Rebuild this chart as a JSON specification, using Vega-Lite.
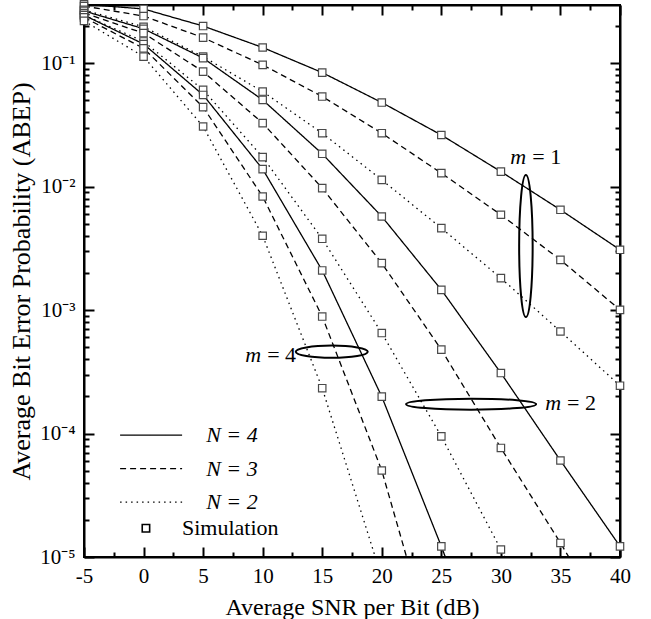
{
  "$schema": "https://vega.github.io/schema/vega-lite/v6.json",
  "width": 536,
  "height": 552,
  "autosize": {"type": "none"},
  "padding": {"left": 84, "top": 5, "right": 31, "bottom": 62},
  "background": "white",
  "config": {
    "view": {"stroke": "black", "strokeWidth": 2},
    "font": "Liberation Serif",
    "axis": {
      "grid": false,
      "domainColor": "black",
      "domainWidth": 2,
      "tickColor": "black",
      "tickWidth": 2,
      "labelFont": "Liberation Serif",
      "labelFontSize": 21,
      "labelColor": "black",
      "labelFlush": false,
      "labelOverlap": false,
      "titleFont": "Liberation Serif",
      "titleFontWeight": "normal",
      "titleColor": "black"
    }
  },
  "datasets": {
    "curves": [
      {"m": 1, "N": 4, "snr": -5, "p": 0.30}, {"m": 1, "N": 4, "snr": 0, "p": 0.275}, {"m": 1, "N": 4, "snr": 5, "p": 0.200}, {"m": 1, "N": 4, "snr": 10, "p": 0.134}, {"m": 1, "N": 4, "snr": 15, "p": 0.0839}, {"m": 1, "N": 4, "snr": 20, "p": 0.0480}, {"m": 1, "N": 4, "snr": 25, "p": 0.0262}, {"m": 1, "N": 4, "snr": 30, "p": 0.01324}, {"m": 1, "N": 4, "snr": 35, "p": 0.00649}, {"m": 1, "N": 4, "snr": 40, "p": 0.00308},
      {"m": 1, "N": 3, "snr": -5, "p": 0.29}, {"m": 1, "N": 3, "snr": 0, "p": 0.241}, {"m": 1, "N": 3, "snr": 5, "p": 0.161}, {"m": 1, "N": 3, "snr": 10, "p": 0.0969}, {"m": 1, "N": 3, "snr": 15, "p": 0.0537}, {"m": 1, "N": 3, "snr": 20, "p": 0.0271}, {"m": 1, "N": 3, "snr": 25, "p": 0.01286}, {"m": 1, "N": 3, "snr": 30, "p": 0.00592}, {"m": 1, "N": 3, "snr": 35, "p": 0.00255}, {"m": 1, "N": 3, "snr": 40, "p": 0.001005},
      {"m": 1, "N": 2, "snr": -5, "p": 0.27}, {"m": 1, "N": 2, "snr": 0, "p": 0.197}, {"m": 1, "N": 2, "snr": 5, "p": 0.113}, {"m": 1, "N": 2, "snr": 10, "p": 0.0589}, {"m": 1, "N": 2, "snr": 15, "p": 0.0271}, {"m": 1, "N": 2, "snr": 20, "p": 0.01135}, {"m": 1, "N": 2, "snr": 25, "p": 0.00461}, {"m": 1, "N": 2, "snr": 30, "p": 0.001816}, {"m": 1, "N": 2, "snr": 35, "p": 0.000671}, {"m": 1, "N": 2, "snr": 40, "p": 0.000244},
      {"m": 2, "N": 4, "snr": -5, "p": 0.265}, {"m": 2, "N": 4, "snr": 0, "p": 0.19}, {"m": 2, "N": 4, "snr": 5, "p": 0.110}, {"m": 2, "N": 4, "snr": 10, "p": 0.0504}, {"m": 2, "N": 4, "snr": 15, "p": 0.01845}, {"m": 2, "N": 4, "snr": 20, "p": 0.00573}, {"m": 2, "N": 4, "snr": 25, "p": 0.001459}, {"m": 2, "N": 4, "snr": 30, "p": 0.000309}, {"m": 2, "N": 4, "snr": 35, "p": 0.0000605}, {"m": 2, "N": 4, "snr": 40, "p": 0.0000122},
      {"m": 2, "N": 3, "snr": -5, "p": 0.255}, {"m": 2, "N": 3, "snr": 0, "p": 0.175}, {"m": 2, "N": 3, "snr": 5, "p": 0.0855}, {"m": 2, "N": 3, "snr": 10, "p": 0.0327}, {"m": 2, "N": 3, "snr": 15, "p": 0.00973}, {"m": 2, "N": 3, "snr": 20, "p": 0.00240}, {"m": 2, "N": 3, "snr": 25, "p": 0.000478}, {"m": 2, "N": 3, "snr": 30, "p": 0.0000764}, {"m": 2, "N": 3, "snr": 35, "p": 0.0000130}, {"m": 2, "N": 3, "snr": 40, "p": 0.0000020},
      {"m": 2, "N": 2, "snr": -5, "p": 0.245}, {"m": 2, "N": 2, "snr": 0, "p": 0.150}, {"m": 2, "N": 2, "snr": 5, "p": 0.0608}, {"m": 2, "N": 2, "snr": 10, "p": 0.01734}, {"m": 2, "N": 2, "snr": 15, "p": 0.00378}, {"m": 2, "N": 2, "snr": 20, "p": 0.000652}, {"m": 2, "N": 2, "snr": 25, "p": 0.0000948}, {"m": 2, "N": 2, "snr": 30, "p": 0.0000115}, {"m": 2, "N": 2, "snr": 35, "p": 0.00000122},
      {"m": 4, "N": 4, "snr": -5, "p": 0.245}, {"m": 4, "N": 4, "snr": 0, "p": 0.143}, {"m": 4, "N": 4, "snr": 5, "p": 0.0553}, {"m": 4, "N": 4, "snr": 10, "p": 0.01387}, {"m": 4, "N": 4, "snr": 15, "p": 0.002094}, {"m": 4, "N": 4, "snr": 20, "p": 0.000199}, {"m": 4, "N": 4, "snr": 25, "p": 0.0000122}, {"m": 4, "N": 4, "snr": 30, "p": 0.00000062},
      {"m": 4, "N": 3, "snr": -5, "p": 0.235}, {"m": 4, "N": 3, "snr": 0, "p": 0.132}, {"m": 4, "N": 3, "snr": 5, "p": 0.0441}, {"m": 4, "N": 3, "snr": 10, "p": 0.00832}, {"m": 4, "N": 3, "snr": 15, "p": 0.000887}, {"m": 4, "N": 3, "snr": 20, "p": 0.0000502}, {"m": 4, "N": 3, "snr": 25, "p": 0.00000104},
      {"m": 4, "N": 2, "snr": -5, "p": 0.22}, {"m": 4, "N": 2, "snr": 0, "p": 0.113}, {"m": 4, "N": 2, "snr": 5, "p": 0.0307}, {"m": 4, "N": 2, "snr": 10, "p": 0.0040}, {"m": 4, "N": 2, "snr": 15, "p": 0.000233}, {"m": 4, "N": 2, "snr": 20, "p": 0.0000068}
    ],
    "ellipses": [
      {"m": 1, "snr": 32.1, "p": 0.0033},
      {"m": 2, "snr": 27.5, "p": 0.000173},
      {"m": 4, "snr": 15.8, "p": 0.00046}
    ],
    "mlabels": [
      {"sym": "m", "rest": "= 1", "snr": 32.38, "p": 0.01528},
      {"sym": "m", "rest": "= 2", "snr": 35.3, "p": 0.000155},
      {"sym": "m", "rest": "= 4", "snr": 10.13, "p": 0.000382}
    ],
    "simlegend": [
      {"label": "Simulation", "snr": 0.2, "p": 0.0000171}
    ]
  },
  "layer": [
    {
      "data": {"name": "curves"},
      "mark": {"type": "line", "clip": true, "color": "black", "strokeWidth": 1.3},
      "encoding": {
        "x": {
          "field": "snr", "type": "quantitative",
          "scale": {"domain": [-5, 40], "nice": false, "zero": false},
          "axis": {
            "orient": "bottom",
            "values": [-5, -2.5, 0, 2.5, 5, 7.5, 10, 12.5, 15, 17.5, 20, 22.5, 25, 27.5, 30, 32.5, 35, 37.5, 40],
            "tickSize": {"condition": {"test": "datum.value % 5 == 0", "value": -10}, "value": -5},
            "labelExpr": "datum.value % 5 == 0 ? '' + datum.value : ''",
            "labelPadding": 18,
            "title": "Average SNR per Bit (dB)",
            "titleFontSize": 24,
            "titlePadding": 4
          }
        },
        "y": {
          "field": "p", "type": "quantitative",
          "scale": {"type": "log", "domain": [0.00001, 0.296], "nice": false},
          "axis": {
            "orient": "left",
            "values": [0.00001, 0.00002, 0.00003, 0.00004, 0.00005, 0.00006, 0.00007, 0.00008, 0.00009, 0.0001, 0.0002, 0.0003, 0.0004, 0.0005, 0.0006, 0.0007, 0.0008, 0.0009, 0.001, 0.002, 0.003, 0.004, 0.005, 0.006, 0.007, 0.008, 0.009, 0.01, 0.02, 0.03, 0.04, 0.05, 0.06, 0.07, 0.08, 0.09, 0.1, 0.2],
            "tickSize": {"condition": {"test": "abs(log(datum.value)/LN10 - round(log(datum.value)/LN10)) < 0.000001", "value": -10}, "value": -5},
            "labelExpr": "abs(log(datum.value)/LN10 - round(log(datum.value)/LN10)) < 0.000001 ? '10' + ['⁰','⁻¹','⁻²','⁻³','⁻⁴','⁻⁵'][-round(log(datum.value)/LN10)] : ''",
            "labelPadding": 19,
            "title": "Average Bit Error Probability (ABEP)",
            "titleFontSize": 26,
            "titlePadding": 5
          }
        },
        "detail": {"field": "m", "type": "nominal"},
        "strokeDash": {
          "field": "N", "type": "nominal",
          "scale": {"domain": [4, 3, 2], "range": [[1, 0], [6, 4], [1.5, 4]]},
          "legend": {
            "orient": "none", "legendX": 53.6, "legendY": 416.7,
            "title": null, "symbolType": "M-2.5,0H2.5", "symbolSize": 615,
            "symbolStrokeWidth": 1.3, "symbolStrokeColor": "black",
            "labelFont": "Liberation Serif", "labelFontSize": 22, "labelFontStyle": "italic",
            "labelColor": "black", "labelOffset": 41.6, "rowPadding": 8.5, "padding": 0,
            "labelExpr": "'N = ' + datum.label"
          }
        }
      }
    },
    {
      "data": {"name": "curves"},
      "transform": [{"filter": "datum.p >= 0.00001 && datum.p <= 0.3"}],
      "mark": {"type": "point", "shape": "square", "filled": true, "color": "white", "stroke": "#4a4a4a", "strokeWidth": 1.2, "size": 55, "opacity": 1},
      "encoding": {
        "x": {"field": "snr", "type": "quantitative", "axis": null},
        "y": {"field": "p", "type": "quantitative", "axis": null}
      }
    },
    {
      "data": {"name": "simlegend"},
      "mark": {"type": "point", "shape": "square", "filled": true, "color": "white", "stroke": "black", "strokeWidth": 1.6, "size": 55, "opacity": 1},
      "encoding": {
        "x": {"field": "snr", "type": "quantitative", "axis": null},
        "y": {"field": "p", "type": "quantitative", "axis": null}
      }
    },
    {
      "data": {"name": "simlegend"},
      "mark": {"type": "text", "align": "left", "baseline": "middle", "dx": 36, "font": "Liberation Serif", "fontSize": 22, "color": "black"},
      "encoding": {
        "x": {"field": "snr", "type": "quantitative", "axis": null},
        "y": {"field": "p", "type": "quantitative", "axis": null},
        "text": {"field": "label"}
      }
    },
    {
      "data": {"name": "ellipses"},
      "transform": [{"filter": "datum.m == 1"}],
      "mark": {"type": "point", "shape": "M0,-1A0.095,1 0 1,1 0,1A0.095,1 0 1,1 0,-1Z", "size": 20164, "filled": false, "stroke": "black", "strokeWidth": 2, "opacity": 1},
      "encoding": {
        "x": {"field": "snr", "type": "quantitative", "axis": null},
        "y": {"field": "p", "type": "quantitative", "axis": null}
      }
    },
    {
      "data": {"name": "ellipses"},
      "transform": [{"filter": "datum.m == 2"}],
      "mark": {"type": "point", "shape": "M-1,0A1,0.085 0 1,1 1,0A1,0.085 0 1,1 -1,0Z", "size": 16900, "filled": false, "stroke": "black", "strokeWidth": 2, "opacity": 1},
      "encoding": {
        "x": {"field": "snr", "type": "quantitative", "axis": null},
        "y": {"field": "p", "type": "quantitative", "axis": null}
      }
    },
    {
      "data": {"name": "ellipses"},
      "transform": [{"filter": "datum.m == 4"}],
      "mark": {"type": "point", "shape": "M-1,0A1,0.17 0 1,1 1,0A1,0.17 0 1,1 -1,0Z", "size": 5184, "filled": false, "stroke": "black", "strokeWidth": 2, "opacity": 1},
      "encoding": {
        "x": {"field": "snr", "type": "quantitative", "axis": null},
        "y": {"field": "p", "type": "quantitative", "axis": null}
      }
    },
    {
      "data": {"name": "mlabels"},
      "mark": {"type": "text", "align": "right", "baseline": "alphabetic", "dx": -3, "font": "Liberation Serif", "fontSize": 22, "fontStyle": "italic", "color": "black"},
      "encoding": {
        "x": {"field": "snr", "type": "quantitative", "axis": null},
        "y": {"field": "p", "type": "quantitative", "axis": null},
        "text": {"field": "sym"}
      }
    },
    {
      "data": {"name": "mlabels"},
      "mark": {"type": "text", "align": "left", "baseline": "alphabetic", "dx": 3, "font": "Liberation Serif", "fontSize": 22, "color": "black"},
      "encoding": {
        "x": {"field": "snr", "type": "quantitative", "axis": null},
        "y": {"field": "p", "type": "quantitative", "axis": null},
        "text": {"field": "rest"}
      }
    },
    {
      "data": {"name": "ellipses"},
      "mark": {"type": "point", "opacity": 0},
      "encoding": {
        "x": {
          "field": "snr", "type": "quantitative",
          "axis": {
            "orient": "top", "labels": false, "title": null,
            "values": [-5, -2.5, 0, 2.5, 5, 7.5, 10, 12.5, 15, 17.5, 20, 22.5, 25, 27.5, 30, 32.5, 35, 37.5, 40],
            "tickSize": {"condition": {"test": "datum.value % 5 == 0", "value": -10}, "value": -5}
          }
        },
        "y": {
          "field": "p", "type": "quantitative",
          "axis": {
            "orient": "right", "labels": false, "title": null,
            "values": [0.00001, 0.00002, 0.00003, 0.00004, 0.00005, 0.00006, 0.00007, 0.00008, 0.00009, 0.0001, 0.0002, 0.0003, 0.0004, 0.0005, 0.0006, 0.0007, 0.0008, 0.0009, 0.001, 0.002, 0.003, 0.004, 0.005, 0.006, 0.007, 0.008, 0.009, 0.01, 0.02, 0.03, 0.04, 0.05, 0.06, 0.07, 0.08, 0.09, 0.1, 0.2],
            "tickSize": {"condition": {"test": "abs(log(datum.value)/LN10 - round(log(datum.value)/LN10)) < 0.000001", "value": -10}, "value": -5}
          }
        }
      }
    }
  ],
  "resolve": {"axis": {"x": "independent", "y": "independent"}}
}
